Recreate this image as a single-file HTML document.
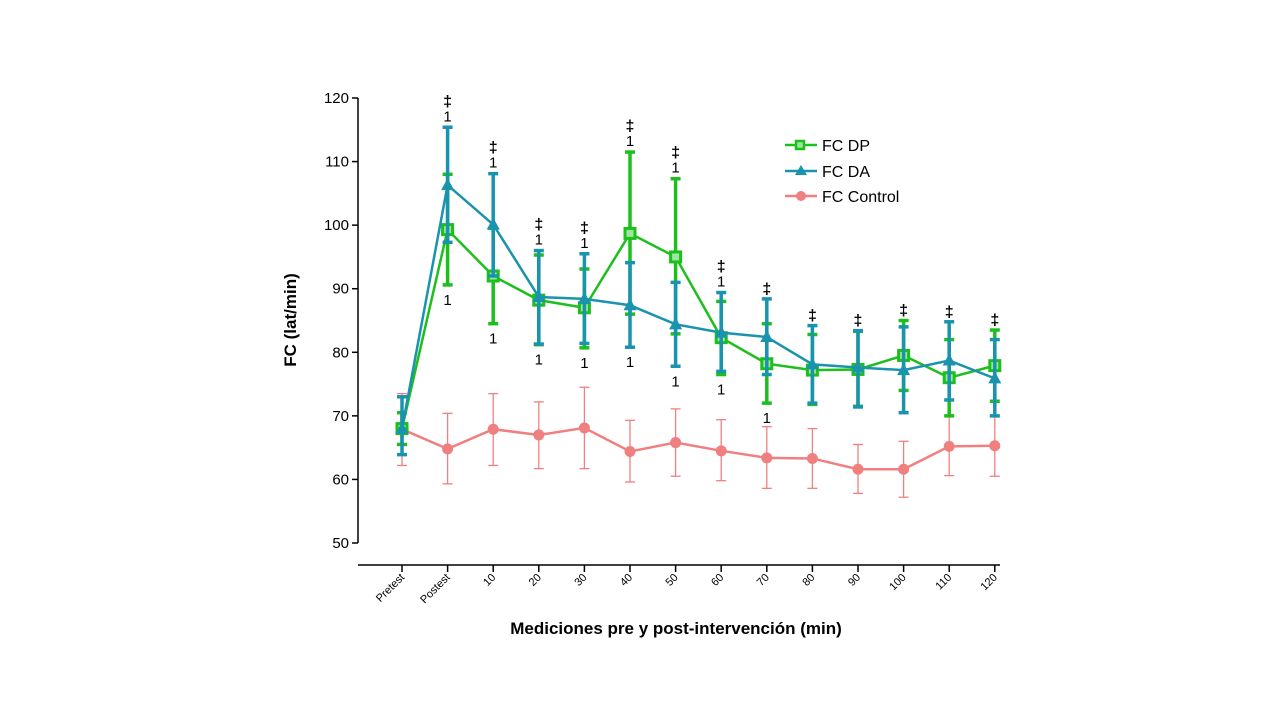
<!DOCTYPE html>
<html><head><meta charset="utf-8"><style>
body{margin:0;background:#fff;width:1280px;height:720px;overflow:hidden}
svg text{font-family:"Liberation Sans",Arial,sans-serif}
</style></head><body>
<svg id="chart" width="1280" height="720" xmlns="http://www.w3.org/2000/svg"></svg>
<script>
const categories=["Pretest","Postest","10","20","30","40","50","60","70","80","90","100","110","120"];
const yTicks=[50,60,70,80,90,100,110,120];
const dpMean=[68,99.3,92,88.2,87,98.7,95,82.3,78.2,77.2,77.3,79.5,76,77.9];
const dpHi=[70.5,108,99.5,95.3,93.1,111.5,107.3,88,84.5,82.8,83.3,85,82,83.5];
const dpLo=[65.5,90.6,84.5,81.2,80.7,86,82.9,76.5,72,71.8,71.5,74,70,72.3];
const daMean=[68,106.3,100.1,88.7,88.4,87.4,84.4,83.1,82.4,78.1,77.6,77.2,78.7,75.9];
const daHi=[73,115.4,108.1,96,95.5,94.1,91,89.4,88.4,84.2,83.4,84,84.8,82];
const daLo=[63.9,97.3,92,81.3,81.4,80.8,77.8,77,76.5,72,71.4,70.5,72.5,70];
const ctMean=[67.9,64.8,67.9,67,68.1,64.4,65.8,64.5,63.4,63.3,61.6,61.6,65.2,65.3];
const ctHi=[73.5,70.4,73.5,72.2,74.5,69.3,71.1,69.4,68.3,68,65.5,66,70,70];
const ctLo=[62.2,59.3,62.2,61.7,61.7,59.6,60.5,59.8,58.6,58.6,57.8,57.2,60.6,60.5];
const topMarks=["","‡1","‡1","‡1","‡1","‡1","‡1","‡1","‡","‡","‡","‡","‡","‡"];
const bottomMarks=["","1","1","1","1","1","1","1","1","","","","",""];

const svg=document.getElementById('chart');
const NS="http://www.w3.org/2000/svg";
const x=i=>402+i*45.6;
const y=v=>543-(v-50)*6.357;
function mk(tag,attrs,parent){const e=document.createElementNS(NS,tag);for(const k in attrs)e.setAttribute(k,attrs[k]);(parent||svg).appendChild(e);return e;}

const yAxis=mk('g',{});


mk('line',{x1:358,y1:y(120),x2:358,y2:y(50),stroke:'#000','stroke-width':1.5},yAxis);
yTicks.forEach(t=>{
  mk('line',{x1:352,y1:y(t),x2:358,y2:y(t),stroke:'#000','stroke-width':1.5},yAxis);
  const tx=mk('text',{x:349,y:y(t)+5,'text-anchor':'end','font-size':15},yAxis);tx.textContent=t;
  
  
});
const xAxis=mk('g',{});


mk('line',{x1:358,y1:565,x2:1000,y2:565,stroke:'#000','stroke-width':1.5},xAxis);
categories.forEach((c,i)=>{
  mk('line',{x1:x(i),y1:565,x2:x(i),y2:572,stroke:'#000','stroke-width':1.5},xAxis);
  const tx=mk('text',{x:x(i)+3,y:578,'text-anchor':'end','font-size':11,transform:`rotate(-45 ${x(i)+3} 578)`},xAxis);tx.textContent=c;
  
  
});
const yt=mk('text',{x:296,y:320,'text-anchor':'middle','font-size':17,'font-weight':'bold',transform:'rotate(-90 296 320)'});
yt.textContent='FC (lat/min)';


const xt=mk('text',{x:676,y:634,'text-anchor':'middle','font-size':17,'font-weight':'bold'});
xt.textContent='Mediciones pre y post-intervención (min)';



function series(name,mean,hi,lo,color,ew,cap,lw,marker){
  const g=mk('g',{});
  
  
  mean.forEach((m,i)=>{
    mk('line',{x1:x(i),y1:y(hi[i]),x2:x(i),y2:y(lo[i]),stroke:color,'stroke-width':ew},g);
    mk('line',{x1:x(i)-cap,y1:y(hi[i]),x2:x(i)+cap,y2:y(hi[i]),stroke:color,'stroke-width':ew},g);
    mk('line',{x1:x(i)-cap,y1:y(lo[i]),x2:x(i)+cap,y2:y(lo[i]),stroke:color,'stroke-width':ew},g);
  });
  mk('polyline',{points:mean.map((m,i)=>x(i)+','+y(m)).join(' '),fill:'none',stroke:color,'stroke-width':lw},g);
  mean.forEach((m,i)=>{
    let p;
    if(marker==='sq')p=mk('rect',{x:x(i)-5,y:y(m)-5,width:10,height:10,fill:'#9ee69e',stroke:color,'stroke-width':3},g);
    else if(marker==='tri')p=mk('polygon',{points:`${x(i)},${y(m)-7} ${x(i)-6.5},${y(m)+5} ${x(i)+6.5},${y(m)+5}`,fill:color},g);
    else p=mk('circle',{cx:x(i),cy:y(m),r:5.5,fill:color},g);
    
    
  });
}
series('series-fc-control',ctMean,ctHi,ctLo,'#f08080',1.3,5,2.5,'circle');
series('series-fc-dp',dpMean,dpHi,dpLo,'#1cbf1c',3.5,5,2.5,'sq');
series('series-fc-da',daMean,daHi,daLo,'#1a93ae',3.5,5,2.5,'tri');

categories.forEach((c,i)=>{
  const top=topMarks[i];
  if(top){
    const hi=Math.max(dpHi[i],daHi[i]);
    const base=y(hi)-6;
    if(top.length>1){
      const t1=mk('text',{x:x(i),y:base,'text-anchor':'middle','font-size':15});t1.textContent='1';
      
      
      const t2=mk('text',{x:x(i),y:base-15,'text-anchor':'middle','font-size':16,'font-weight':'bold'});t2.textContent='‡';
      
      
    }else{
      const t2=mk('text',{x:x(i),y:base+1,'text-anchor':'middle','font-size':16,'font-weight':'bold'});t2.textContent='‡';
      
      
    }
  }
  if(bottomMarks[i]){
    const lo=Math.min(dpLo[i],daLo[i]);
    const t=mk('text',{x:x(i),y:y(lo)+20,'text-anchor':'middle','font-size':15});t.textContent='1';
    
    
  }
});

const leg=mk('g',{});


[['FC DP','#1cbf1c','sq',145],['FC DA','#1a93ae','tri',171],['FC Control','#f08080','circle',196]].forEach(([lab,col,mkr,ly])=>{
  const e=mk('g',{},leg);
  
  
  mk('line',{x1:785,y1:ly,x2:817,y2:ly,stroke:col,'stroke-width':2.5},e);
  if(mkr==='sq')mk('rect',{x:796,y:ly-4,width:8,height:8,fill:'#9ee69e',stroke:col,'stroke-width':2.5},e);
  else if(mkr==='tri')mk('polygon',{points:`801,${ly-6} 795,${ly+4} 807,${ly+4}`,fill:col},e);
  else mk('circle',{cx:801,cy:ly,r:5,fill:col},e);
  const t=mk('text',{x:822,y:ly+6,'font-size':16},e);t.textContent=lab;
});
</script>
</body></html>
